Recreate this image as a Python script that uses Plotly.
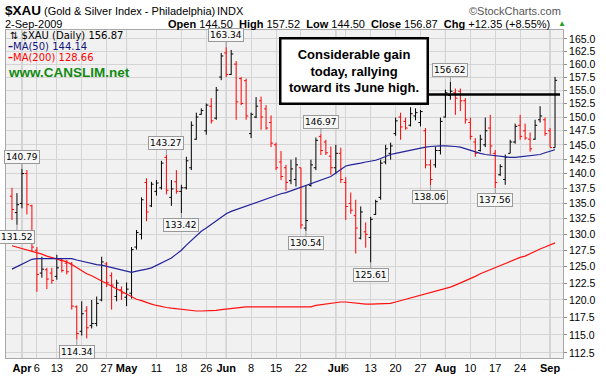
import math
import pandas as pd
import plotly.graph_objects as go

# ---------------- data ----------------
holidays = ["2009-04-10", "2009-05-25", "2009-07-03"]
dates = [d.strftime("%Y-%m-%d") for d in pd.bdate_range("2009-03-30", "2009-09-02")
         if d.strftime("%Y-%m-%d") not in holidays]

opens = [136.2, 133.5, 135.0, 140.0, 134.6, 127.5, 124.0, 124.5, 124.0, 123.5,
         125.9, 125.5, 125.4, 119.0, 115.5, 118.4, 116.3, 116.6, 120.0, 125.4,
         123.6, 120.5, 121.5, 120.4, 121.0, 128.0, 130.0, 138.5, 134.6, 137.0,
         137.6, 142.8, 136.0, 138.6, 137.0, 137.6, 141.0, 146.0, 150.5, 147.5,
         152.0, 149.8, 157.5, 162.2, 158.0, 160.0, 157.2, 156.8, 147.0, 150.0,
         153.0, 151.5, 149.0, 145.0, 142.0, 141.0, 138.8, 139.0, 141.0, 131.0,
         138.0, 141.0, 146.5, 145.5, 143.0, 141.0, 143.5, 138.5, 135.0, 133.0,
         129.4, 130.4, 129.5, 133.2, 136.0, 142.0, 143.5, 147.0, 150.0, 149.2,
         148.5, 150.2, 149.0, 147.5, 141.5, 141.5, 144.0, 150.0, 154.0, 154.5,
         154.8, 153.0, 149.0, 145.5, 144.0, 145.0, 148.0, 143.5, 139.8, 139.0,
         143.5, 145.5, 148.5, 147.5, 146.0, 146.0, 149.5, 149.5, 147.5, 144.50]
highs = [137.6, 136.7, 140.79, 140.6, 134.8, 128.0, 126.5, 124.8, 124.8, 126.8,
         126.2, 126.0, 125.7, 119.2, 119.8, 119.1, 120.0, 120.5, 126.5, 125.7,
         124.1, 123.0, 122.0, 122.6, 128.0, 130.7, 136.0, 139.2, 138.6, 138.9,
         142.2, 143.27, 138.9, 140.6, 138.1, 142.9, 149.2, 150.8, 151.6, 152.5,
         153.5, 155.6, 162.2, 163.34, 162.8, 160.6, 157.5, 157.2, 150.8, 153.7,
         153.8, 152.2, 150.3, 145.4, 143.9, 141.5, 142.4, 142.8, 141.0, 137.9,
         142.4, 146.3, 146.97, 145.9, 144.7, 145.0, 144.5, 139.4, 136.8, 135.6,
         134.5, 131.9, 132.8, 135.6, 142.4, 145.0, 145.4, 149.9, 150.8, 149.9,
         151.8, 151.6, 151.3, 148.0, 142.4, 144.6, 149.9, 155.1, 156.62, 155.3,
         155.3, 153.5, 149.9, 146.2, 146.8, 149.9, 150.4, 144.1, 141.6, 143.3,
         145.9, 148.8, 150.4, 148.8, 147.2, 149.5, 152.0, 149.9, 148.0, 157.52]
lows = [132.3, 131.52, 134.2, 133.2, 127.3, 121.2, 123.3, 121.6, 122.4, 123.0,
        124.1, 123.8, 118.6, 114.34, 114.9, 114.5, 115.9, 116.2, 119.8, 121.9,
        118.6, 119.8, 120.0, 119.1, 120.2, 127.6, 129.2, 132.1, 134.4, 136.3,
        137.3, 136.5, 134.6, 136.6, 133.42, 137.3, 140.6, 145.9, 150.4, 146.8,
        148.8, 149.5, 156.9, 157.5, 157.9, 149.5, 152.2, 149.5, 146.2, 149.8,
        147.7, 147.7, 144.6, 140.6, 138.9, 137.1, 138.2, 137.8, 130.9, 130.54,
        137.8, 140.6, 143.2, 143.2, 139.8, 139.9, 138.4, 132.3, 133.3, 127.0,
        129.2, 127.9, 125.61, 133.1, 135.6, 141.6, 142.4, 146.6, 145.9, 147.7,
        148.3, 149.4, 148.3, 140.9, 138.06, 141.0, 143.3, 149.9, 153.2, 150.4,
        151.1, 148.8, 145.9, 142.9, 143.8, 144.6, 143.3, 137.56, 139.6, 138.1,
        143.5, 145.2, 145.9, 145.9, 143.8, 145.9, 149.0, 146.6, 144.6, 144.50]
closes = [134.0, 134.8, 140.0, 134.8, 128.0, 123.8, 124.6, 123.1, 122.9, 124.8,
          124.4, 124.2, 119.1, 115.2, 118.0, 116.0, 116.6, 119.5, 125.7, 122.6,
          122.2, 122.5, 121.0, 121.6, 127.6, 130.3, 135.6, 133.6, 138.2, 138.4,
          141.8, 137.2, 137.4, 137.0, 137.6, 142.2, 148.5, 150.0, 151.2, 152.2,
          149.3, 155.0, 161.6, 158.0, 162.0, 152.8, 152.5, 150.2, 150.5, 152.0,
          150.0, 148.0, 145.3, 141.0, 139.5, 138.5, 140.8, 141.5, 131.5, 132.2,
          141.5, 145.8, 144.0, 143.6, 141.0, 143.5, 139.0, 134.5, 133.9, 131.0,
          133.6, 130.0, 132.4, 135.3, 141.8, 144.3, 144.8, 149.3, 148.2, 148.0,
          150.6, 150.8, 151.0, 141.5, 139.0, 144.0, 149.2, 154.5, 154.8, 153.5,
          153.0, 149.5, 146.5, 143.5, 146.0, 147.5, 144.8, 138.5, 141.2, 142.8,
          145.5, 148.3, 146.5, 146.2, 144.3, 148.5, 150.2, 147.0, 144.52, 156.87]

ma50 = [124.6, 125.0, 125.4, 125.8, 126.1, 126.2, 126.2, 126.3, 126.3, 126.3,
        126.3, 126.3, 126.2, 126.0, 125.8, 125.6, 125.5, 125.3, 125.2, 125.0,
        124.8, 124.7, 124.4, 124.2, 124.1, 124.3, 124.4, 124.6, 124.8, 125.2,
        125.5, 125.9, 126.3, 126.9, 127.5, 128.3, 129.0, 129.8, 130.5, 131.0,
        131.6, 132.2, 132.8, 133.3, 133.7, 134.0, 134.3, 134.6, 134.9, 135.2,
        135.5, 135.8, 136.1, 136.3, 136.6, 136.8, 137.1, 137.4, 137.7, 138.0,
        138.2, 138.5, 138.8, 139.1, 139.5, 140.1, 140.7, 141.3, 141.5, 141.6,
        141.8, 142.0, 142.1, 142.3, 142.6, 143.0, 143.3, 143.5, 143.7, 143.9,
        144.1, 144.3, 144.5, 144.6, 144.7, 144.8, 144.8, 144.8, 144.8, 144.7,
        144.6, 144.3, 144.0, 143.7, 143.5, 143.3, 143.2, 143.0, 142.9, 142.8,
        142.8, 142.8, 142.9, 142.9, 143.0, 143.1, 143.3, 143.6, 143.9, 144.14]
ma200 = [128.2, 128.0, 127.8, 127.6, 127.4, 127.1, 126.9, 126.6, 126.4, 126.2,
         125.9, 125.7, 125.3, 124.8, 124.3, 123.9, 123.6, 123.2, 122.8, 122.4,
         122.0, 121.6, 121.2, 120.8, 120.4, 120.1, 119.9, 119.6, 119.4, 119.2,
         119.0, 118.9, 118.8, 118.7, 118.6, 118.5, 118.5, 118.4, 118.4, 118.4,
         118.4, 118.5, 118.6, 118.7, 118.8, 118.9, 119.0, 119.0, 119.0, 119.0,
         119.0, 119.0, 119.0, 119.0, 119.0, 119.0, 118.9, 118.9, 118.9, 118.9,
         119.0, 119.2, 119.3, 119.5, 119.6, 119.7, 119.7, 119.7, 119.6, 119.5,
         119.4, 119.4, 119.4, 119.4, 119.4, 119.5, 119.5, 119.7, 119.9, 120.1,
         120.3, 120.5, 120.7, 120.8, 121.0, 121.2, 121.4, 121.6, 121.9, 122.2,
         122.5, 122.8, 123.2, 123.5, 123.9, 124.2, 124.5, 124.9, 125.2, 125.5,
         125.8, 126.1, 126.4, 126.6, 127.0, 127.4, 127.7, 128.0, 128.3, 128.66]

tick_dates = ["2009-04-01", "2009-04-06", "2009-04-13", "2009-04-20", "2009-04-27",
              "2009-05-01", "2009-05-11", "2009-05-18", "2009-05-26",
              "2009-06-01", "2009-06-08", "2009-06-15", "2009-06-22",
              "2009-07-01", "2009-07-06", "2009-07-13", "2009-07-20", "2009-07-27",
              "2009-08-03", "2009-08-10", "2009-08-17", "2009-08-24", "2009-09-01"]
tick_text = ["<b>Apr</b>", "6", "13", "20", "27", "<b>May</b>", "11", "18", "26",
             "<b>Jun</b>", "8", "15", "22", "<b>Jul</b>", "6", "13", "20", "27",
             "<b>Aug</b>", "10", "17", "24", "<b>Sep</b>"]
month_dates = ["2009-04-01", "2009-05-01", "2009-06-01", "2009-07-01", "2009-08-03", "2009-09-01"]

y_ticks = [112.5, 115.0, 117.5, 120.0, 122.5, 125.0, 127.5, 130.0, 132.5, 135.0, 137.5,
           140.0, 142.5, 145.0, 147.5, 150.0, 152.5, 155.0, 157.5, 160.0, 162.5, 165.0]

label_dates = ["2009-03-31", "2009-04-01", "2009-04-17", "2009-05-13", "2009-05-18", "2009-06-01",
               "2009-06-23", "2009-06-26", "2009-07-13", "2009-07-29", "2009-08-04", "2009-08-17"]
label_kinds = ["low", "high", "low", "high", "low", "high",
               "low", "high", "low", "low", "high", "low"]

resistance_level = 154.2
y_lo, y_hi = 111.8, 166.8

# ---------------- figure ----------------
n = len(dates)
up_idx, dn_idx = [], []
for i in range(n):
    ref = closes[i - 1] if i > 0 else opens[i]
    (up_idx if closes[i] >= ref else dn_idx).append(i)


def ohlc_trace(idx, color):
    return go.Ohlc(
        x=[dates[i] for i in idx], open=[opens[i] for i in idx], high=[highs[i] for i in idx],
        low=[lows[i] for i in idx], close=[closes[i] for i in idx],
        increasing=dict(line=dict(color=color, width=1)),
        decreasing=dict(line=dict(color=color, width=1)),
        tickwidth=0.42, showlegend=False, hoverinfo="skip")


fig = go.Figure()
fig.add_trace(go.Scatter(x=dates, y=ma200, mode="lines", line=dict(color="#ff1010", width=1.2),
                         showlegend=False, hoverinfo="skip"))
fig.add_trace(go.Scatter(x=dates, y=ma50, mode="lines", line=dict(color="#22229a", width=1.2),
                         showlegend=False, hoverinfo="skip"))
fig.add_trace(ohlc_trace(up_idx, "#000000"))
fig.add_trace(ohlc_trace(dn_idx, "#ff0000"))

L, T, W, H = 6, 30, 557, 328
def px(X):
    return (X - L) / W
def py(Y):
    return 1 - (Y - T) / H

fig.update_layout(
    width=606, height=379, margin=dict(l=L, r=606 - L - W, t=T, b=379 - T - H),
    paper_bgcolor="white", plot_bgcolor="#f1f1f1", showlegend=False,
    font=dict(family="Liberation Sans, Arial, sans-serif", size=11, color="black"),
)
fig.update_xaxes(
    type="category", categoryorder="array", categoryarray=dates,
    range=[-1.2, 110.6], tickmode="array", tickvals=tick_dates, ticktext=tick_text,
    tickangle=0, showgrid=True, gridcolor="#d4d4d4", gridwidth=1,
    showline=True, linecolor="#a8a8a8", linewidth=1, mirror=True, ticks="",
    tickfont=dict(size=11, color="black"), rangeslider=dict(visible=False), zeroline=False,
)
fig.update_yaxes(
    type="log", range=[math.log10(y_lo), math.log10(y_hi)], side="right",
    tickmode="array", tickvals=y_ticks, ticktext=[f"{v:.1f}" for v in y_ticks],
    showgrid=True, gridcolor="#d4d4d4", gridwidth=1,
    showline=True, linecolor="#a8a8a8", linewidth=1, mirror=True,
    ticks="outside", ticklen=3, tickcolor="#909090",
    tickfont=dict(size=10.5, color="black"), zeroline=False,
)

# darker month separators
for d in month_dates:
    i = dates.index(d)
    fig.add_shape(type="line", xref="x", yref="paper", x0=i, x1=i, y0=0, y1=1,
                  line=dict(color="#b2b2b2", width=1), layer="below")

# price labels
for d, kind in zip(label_dates, label_kinds):
    i = dates.index(d)
    v = highs[i] if kind == "high" else lows[i]
    fig.add_annotation(
        x=i, y=math.log10(v), xref="x", yref="y", text=f"{v:.2f}",
        showarrow=True, arrowhead=0, arrowwidth=1, arrowcolor="#9a9a9a",
        ax=0, ay=-12 if kind == "high" else 12,
        bgcolor="#f7f7f7", bordercolor="#9a9a9a", borderwidth=1, borderpad=1,
        font=dict(size=9, family="DejaVu Sans, sans-serif", color="black"))

# resistance line
yl = (math.log10(resistance_level) - math.log10(y_lo)) / (math.log10(y_hi) - math.log10(y_lo))
fig.add_shape(type="line", xref="paper", yref="paper", x0=px(420), x1=px(560), y0=yl, y1=yl,
              line=dict(color="black", width=2.5))

# comment box
fig.add_annotation(
    xref="paper", yref="paper", x=px(354), y=py(70.5), xanchor="center", yanchor="middle",
    text="<b>Considerable gain<br>today, rallying<br>toward its June high.</b>",
    showarrow=False, align="center", bgcolor="white", bordercolor="black", borderwidth=2.5,
    borderpad=3, width=139, height=57,
    font=dict(size=13, family="Liberation Sans, Arial, sans-serif", color="black"))

# header
def txt(X, Y, text, size=11, color="black", anchor="left", family="Liberation Sans, Arial, sans-serif"):
    fig.add_annotation(xref="paper", yref="paper", x=px(X), y=py(Y), text=text, showarrow=False,
                       xanchor=anchor, yanchor="middle", font=dict(size=size, color=color, family=family))

txt(3, 10.5, "<b>$XAU</b>", size=13.5)
txt(42, 11, "(Gold &amp; Silver Index - Philadelphia)", size=11)
txt(215, 11, "INDX", size=11)
txt(563, 11, "©StockCharts.com", size=11, color="#555555", anchor="right")
txt(3, 24.5, "2-Sep-2009", size=11)
txt(552, 24.5, "<b>Open</b> 144.50  <b>High</b> 157.52  <b>Low</b> 144.50  <b>Close</b> 156.87  "
               "<b>Chg</b> +12.35 (+8.55%)", size=11, anchor="right")
txt(556, 24, "▲", size=8, color="#1fa31f")

# in-plot legend
txt(8, 35.5, "⇅ $XAU (Daily) 156.87", size=10, family="DejaVu Sans, sans-serif")
txt(6, 46.5, "<b>–</b>MA(50) 144.14", size=10, color="#141480", family="DejaVu Sans, sans-serif")
txt(6, 57.5, "<b>–</b>MA(200) 128.66", size=10, color="#ff0000", family="DejaVu Sans, sans-serif")
txt(6, 72, "<b>www.CANSLIM.net</b>", size=13.5, color="#128a12")

fig.write_html("out.html", config={"displayModeBar": False},
               post_script="document.body.style.margin='0px';")
